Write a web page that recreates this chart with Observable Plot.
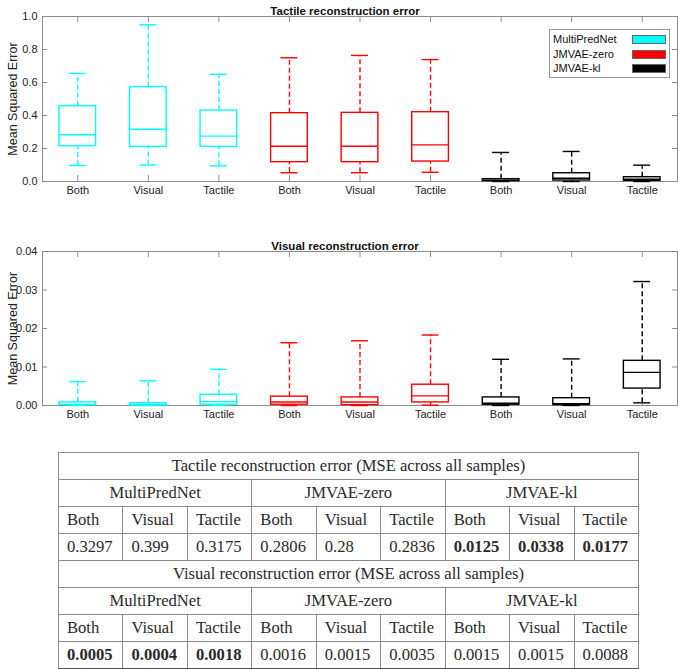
<!DOCTYPE html>
<html>
<head>
<meta charset="utf-8">
<script src="https://cdn.jsdelivr.net/npm/d3@7"></script>
<script src="https://cdn.jsdelivr.net/npm/@observablehq/plot@0.6"></script>
<style>
  html, body { margin: 0; padding: 0; background: white; }
  #wrap { position: relative; width: 679px; }
  .legend { position: absolute; left: 549px; top: 29px; width: 119px; height: 47px; border: 1px solid #999; background: white;
    font-family: "Liberation Sans", Arial, sans-serif; font-size: 11px; color: #111; }
  .legend .row { position: absolute; left: 3px; height: 14px; line-height: 14px; }
  .legend .sw { position: absolute; left: 82px; width: 32px; height: 7px; border: 1px solid #666; }
  table.res { position: absolute; left: 58px; top: 452px; width: 581px; border-collapse: collapse;
    font-family: "Liberation Serif", "Times New Roman", serif; font-size: 16.6px; color: #2a2a2a; }
  table.res td { border: 1px solid #8a8a8a; height: 26px; padding: 0 0 0 8px; white-space: nowrap; }
  table.res td.c { text-align: center; padding: 0; }
  table.res td.sep { border-left: 1.5px solid #333; }
  table.res tr.vals td { border-top: 1.5px solid #333; }
  table.res tr.last td { border-bottom: 2px solid #555; }
</style>
</head>
<body>
<div id="wrap"></div>
<script>
const models = ["MultiPredNet", "JMVAE-zero", "JMVAE-kl"];
const conditions = ["Both", "Visual", "Tactile"];
const modelColors = ["#00ffff", "#ff0000", "#000000"];

// Tactile reconstruction error boxes (order: model-major, condition-minor)
const tactileLow    = [0.097, 0.100, 0.095, 0.053, 0.053, 0.056, 0.000, 0.000, 0.000];
const tactileQ1     = [0.214, 0.210, 0.210, 0.117, 0.117, 0.121, 0.002, 0.006, 0.004];
const tactileMedian = [0.283, 0.317, 0.275, 0.214, 0.214, 0.222, 0.008, 0.020, 0.014];
const tactileQ3     = [0.456, 0.572, 0.430, 0.414, 0.416, 0.420, 0.014, 0.050, 0.026];
const tactileHigh   = [0.655, 0.950, 0.650, 0.750, 0.764, 0.739, 0.176, 0.182, 0.099];

// Visual reconstruction error boxes
const visualLow    = [0.0000, 0.0000, 0.0000, 0.0000, 0.0000, 0.0001, 0.0000, 0.0000, 0.0007];
const visualQ1     = [0.0001, 0.0001, 0.0002, 0.0002, 0.0001, 0.0008, 0.0002, 0.0001, 0.0044];
const visualMedian = [0.0003, 0.0002, 0.0010, 0.0009, 0.0009, 0.0025, 0.0006, 0.0005, 0.0086];
const visualQ3     = [0.0008, 0.0006, 0.0028, 0.0023, 0.0021, 0.0054, 0.0021, 0.0019, 0.0116];
const visualHigh   = [0.0062, 0.0064, 0.0094, 0.0163, 0.0168, 0.0183, 0.0120, 0.0121, 0.0322];

const tactileTicks = [0, 0.2, 0.4, 0.6, 0.8, 1];
const visualTicks = [0, 0.01, 0.02, 0.03, 0.04];

// Table: MSE across all samples
const tableTactile = [0.3297, 0.399, 0.3175, 0.2806, 0.28, 0.2836, 0.0125, 0.0338, 0.0177];
const tableVisual  = [0.0005, 0.0004, 0.0018, 0.0016, 0.0015, 0.0035, 0.0015, 0.0015, 0.0088];
const tableTactileLabels = ["0.3297", "0.399", "0.3175", "0.2806", "0.28", "0.2836", "0.0125", "0.0338", "0.0177"];
const tableVisualLabels  = ["0.0005", "0.0004", "0.0018", "0.0016", "0.0015", "0.0035", "0.0015", "0.0015", "0.0088"];

function buildRows(low, q1, med, q3, high) {
  return low.map((_, i) => ({
    i, model: models[Math.floor(i / 3)], cond: conditions[i % 3],
    color: modelColors[Math.floor(i / 3)],
    low: low[i], q1: q1[i], med: med[i], q3: q3[i], high: high[i]
  }));
}

const W = 679, ML = 42, MR = 2;
const BOX = 0.26, CAP = 0.12;

function panel({title, rows, yDomain, yTicks, height, marginTop, marginBottom}) {
  const innerW = W - ML - MR;
  const innerH = height - marginTop - marginBottom;
  const idx = d3.range(9);
  return Plot.plot({
    width: W, height, marginLeft: ML, marginRight: MR, marginTop, marginBottom,
    style: {fontFamily: "Liberation Sans, Arial, sans-serif", fontSize: "11px", color: "#222", background: "white", overflow: "visible"},
    x: {domain: [-0.5, 8.5], axis: null},
    y: {domain: yDomain, axis: null},
    marks: [
      Plot.frame({stroke: "#8c8c8c"}),
      Plot.ruleY(yTicks.slice(1, -1), {stroke: "#8c8c8c", insetRight: innerW - 5}),
      Plot.ruleY(yTicks.slice(1, -1), {stroke: "#8c8c8c", insetLeft: innerW - 5}),
      Plot.ruleX(idx, {stroke: "#8c8c8c", insetBottom: innerH - 6}),
      Plot.ruleX(idx, {stroke: "#8c8c8c", insetTop: innerH - 6}),
      Plot.axisY(yTicks, {tickSize: 0, tickPadding: 5, label: null, fill: "#222"}),
      Plot.axisX(idx, {tickSize: 0, tickPadding: 5, label: null, tickFormat: i => conditions[i % 3], fill: "#222"}),
      // whiskers
      Plot.ruleX(rows, {x: "i", y1: "q3", y2: "high", stroke: "color", strokeWidth: 1.4, strokeDasharray: "5,3"}),
      Plot.ruleX(rows.filter(d => d.q1 > d.low), {x: "i", y1: "low", y2: "q1", stroke: "color", strokeWidth: 1.4, strokeDasharray: "5,3"}),
      // caps
      Plot.ruleY(rows, {y: "high", x1: d => d.i - CAP, x2: d => d.i + CAP, stroke: "color", strokeWidth: 1.4}),
      Plot.ruleY(rows, {y: "low", x1: d => d.i - CAP, x2: d => d.i + CAP, stroke: "color", strokeWidth: 1.4}),
      // boxes
      Plot.rect(rows, {x1: d => d.i - BOX, x2: d => d.i + BOX, y1: "q1", y2: "q3", fill: "white", stroke: "color", strokeWidth: 1.4}),
      Plot.ruleY(rows, {y: "med", x1: d => d.i - BOX, x2: d => d.i + BOX, stroke: "color", strokeWidth: 1.4}),
      // title and y label
      Plot.text([title], {frameAnchor: "top", dx: -15, dy: -10, fontWeight: "bold", fontSize: 11.5, fill: "#111"}),
      Plot.text(["Mean Squared Error"], {frameAnchor: "left", textAnchor: "middle", rotate: -90, dx: -30, fontSize: 12.5, fill: "#222"})
    ]
  });
}

const wrap = document.getElementById("wrap");

const topPanel = panel({
  title: "Tactile reconstruction error",
  rows: buildRows(tactileLow, tactileQ1, tactileMedian, tactileQ3, tactileHigh),
  yDomain: [0, 1], yTicks: tactileTicks, height: 205, marginTop: 16, marginBottom: 24
});
topPanel.style.display = "block";
wrap.appendChild(topPanel);

const bottomPanel = panel({
  title: "Visual reconstruction error",
  rows: buildRows(visualLow, visualQ1, visualMedian, visualQ3, visualHigh),
  yDomain: [0, 0.04], yTicks: visualTicks, height: 225, marginTop: 46, marginBottom: 25
});
bottomPanel.style.display = "block";
wrap.appendChild(bottomPanel);

// legend
const legend = document.createElement("div");
legend.className = "legend";
models.forEach((m, k) => {
  const r = document.createElement("div");
  r.className = "row"; r.style.top = (2 + k * 14.5) + "px"; r.textContent = m;
  legend.appendChild(r);
  const s = document.createElement("div");
  s.className = "sw"; s.style.top = (5 + k * 14.5) + "px"; s.style.background = modelColors[k];
  legend.appendChild(s);
});
wrap.appendChild(legend);

// table
function bestFlags(values) {
  return values.map((v, i) => {
    const c = i % 3;
    const others = [0, 1, 2].map(m => values[m * 3 + c]);
    return v === Math.min(...others);
  });
}
const table = document.createElement("table");
table.className = "res";
function addSection(label, values, labels, isLast) {
  const r1 = table.insertRow();
  const c1 = r1.insertCell(); c1.colSpan = 9; c1.className = "c"; c1.textContent = label;
  const r2 = table.insertRow();
  models.forEach((m, k) => { const c = r2.insertCell(); c.colSpan = 3; c.className = "c" + (k > 0 ? " sep" : ""); c.textContent = m; });
  const r3 = table.insertRow();
  d3.range(9).forEach(i => { const c = r3.insertCell(); if (i % 3 === 0 && i > 0) c.className = "sep"; c.textContent = conditions[i % 3]; });
  const r4 = table.insertRow(); r4.className = "vals" + (isLast ? " last" : "");
  const best = bestFlags(values);
  d3.range(9).forEach(i => {
    const c = r4.insertCell(); if (i % 3 === 0 && i > 0) c.className = "sep";
    c.textContent = labels[i]; if (best[i]) c.style.fontWeight = "bold";
  });
}
addSection("Tactile reconstruction error (MSE across all samples)", tableTactile, tableTactileLabels, false);
addSection("Visual reconstruction error (MSE across all samples)", tableVisual, tableVisualLabels, true);
wrap.appendChild(table);
wrap.style.height = "669px";
</script>
</body>
</html>
